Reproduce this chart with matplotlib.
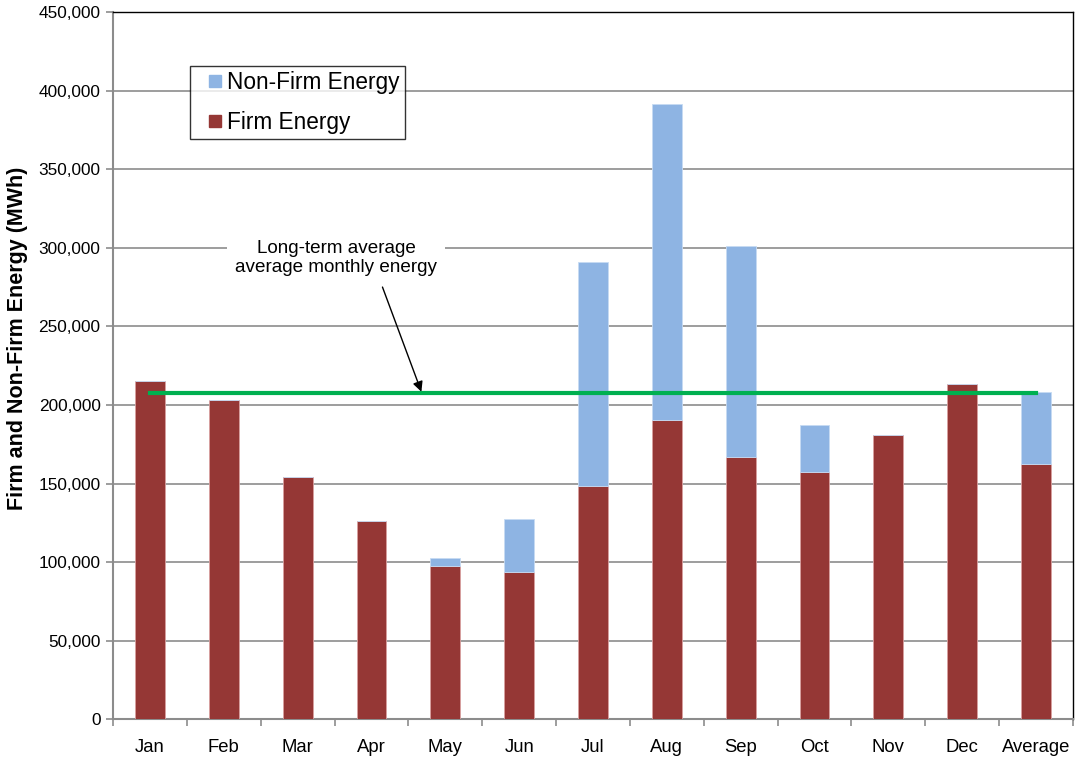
import matplotlib
matplotlib.use("Agg")
import matplotlib.pyplot as plt
from matplotlib.lines import Line2D
import numpy as np

plt.rcParams['font.family'] = ['Liberation Sans', 'DejaVu Sans']

categories = ["Jan", "Feb", "Mar", "Apr", "May", "Jun", "Jul", "Aug", "Sep", "Oct", "Nov", "Dec", "Average"]
firm = [215500, 203400, 154000, 126000, 97700, 93900, 148600, 190600, 166900, 157100, 180700, 213300, 162400]
total = [215500, 203400, 154000, 126000, 102400, 127400, 291100, 391300, 301100, 187400, 180700, 213300, 208000]
nonfirm = [t - f for t, f in zip(total, firm)]
long_term_avg = 207600

firm_color = "#953735"
nonfirm_color = "#8eb4e3"

fig = plt.figure(figsize=(10.77, 7.59), dpi=100)
ax = fig.add_axes([113/1077, 1 - 719.3/759, (1073-113)/1077, (719.3-12)/759])

x = np.arange(len(categories))
width = 0.405
ax.bar(x, firm, width, color=firm_color, edgecolor="#d9a0a0", linewidth=0.6, label="Firm Energy", zorder=3)
ax.bar(x, nonfirm, width, bottom=firm, color=nonfirm_color, edgecolor="#c6dbf3", linewidth=0.6, label="Non-Firm Energy", zorder=3)
ax.plot(x, [long_term_avg]*len(x), color="#00b050", linewidth=3, zorder=4)

ax.set_xlim(-0.5, len(categories) - 0.5)
ax.set_ylim(0, 450000)
ax.set_yticks(np.arange(0, 450001, 50000))
ax.yaxis.set_major_formatter(matplotlib.ticker.FuncFormatter(lambda v, p: f"{int(v):,}"))
ax.grid(axis="y", color="#8c8c8c", linewidth=1.2, zorder=0)
ax.set_axisbelow(True)

ax.set_xticks(x)
ax.set_xticklabels(categories)
ax.set_xticks(np.arange(-0.5, len(categories), 1), minor=True)
ax.tick_params(axis="x", which="major", length=0, labelsize=13.3, pad=14)
ax.tick_params(axis="x", which="minor", length=5, color="#8c8c8c", width=1.2)
ax.tick_params(axis="y", length=5, color="#8c8c8c", width=1.2, labelsize=12.4, pad=4)

for s in ["left", "bottom"]:
    ax.spines[s].set_color("#8c8c8c")
    ax.spines[s].set_linewidth(1.5)
for s in ["top", "right"]:
    ax.spines[s].set_color("#000000")
    ax.spines[s].set_linewidth(1.0)

ax.set_ylabel("Firm and Non-Firm Energy (MWh)", fontsize=15.5, fontweight="bold")
ax.yaxis.set_label_coords(-85/960, (719.3 - 338) / 707.3)

leg_handles = [Line2D([], [], linestyle="none", marker="s", markersize=8.8,
                      markerfacecolor=nonfirm_color, markeredgecolor=nonfirm_color),
               Line2D([], [], linestyle="none", marker="s", markersize=8.8,
                      markerfacecolor=firm_color, markeredgecolor=firm_color)]
leg = ax.legend(leg_handles, ["Non-Firm Energy", "Firm Energy"],
                loc="upper left", bbox_to_anchor=(77/960, 1 - 54/707.3),
                fontsize=16.3, frameon=True, fancybox=False, edgecolor="black",
                handlelength=1.8, handletextpad=-0.38,
                labelspacing=0.75, borderpad=0.22, borderaxespad=0)
leg.get_frame().set_linewidth(1.0)

ax.text(2.52, 293500, "Long-term average\naverage monthly energy",
        ha="center", va="center", fontsize=13.6, linespacing=1.15,
        bbox=dict(boxstyle="square,pad=0.4", fc="white", ec="none"), zorder=5)
ax.annotate("", xy=(3.676, 208400), xytext=(3.149, 275000),
            arrowprops=dict(arrowstyle="-|>", color="black", lw=1.0,
                            shrinkA=0, shrinkB=0, mutation_scale=15),
            zorder=6)

fig.savefig("out.png", dpi=100)
